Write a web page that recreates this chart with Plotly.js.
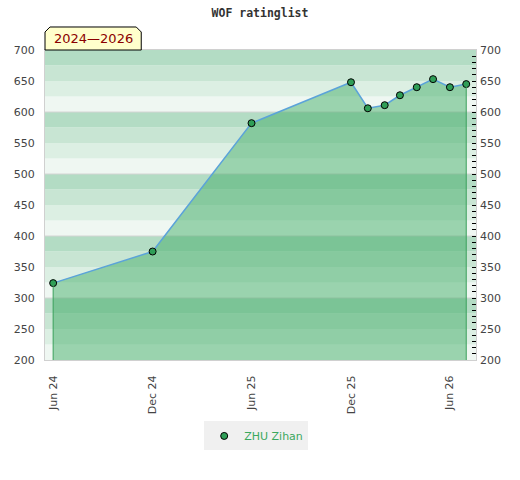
<!DOCTYPE html>
<html>
<head>
<meta charset="utf-8">
<script src="https://cdn.plot.ly/plotly-3.0.1.min.js"></script>
<style>
  html, body { margin: 0; padding: 0; background: #fff; }
  #chart { width: 520px; height: 480px; }
</style>
</head>
<body>
<div id="chart"></div>
<script>
// ---- data ----
const dates = ['2024-06-01', '2024-12-01', '2025-06-01', '2025-12-01', '2026-01-01',
               '2026-02-01', '2026-03-01', '2026-04-01', '2026-05-01', '2026-06-01', '2026-07-01'];
const ratings = [324, 375, 582, 648, 606, 611, 627, 640, 653, 640, 645];
const playerName = 'ZHU Zihan';
const chartTitle = 'WOF ratinglist';
const periodLabel = '2024\u20142026';
const tickDates = ['2024-06-01', '2024-12-01', '2025-06-01', '2025-12-01', '2026-06-01'];
const tickLabels = ['Jun 24', 'Dec 24', 'Jun 25', 'Dec 25', 'Jun 26'];

// ---- styling ----
const yMin = 200, yMax = 700;
const bandColors = ['#eff7f2', '#dcefe3', '#c8e5d3', '#b3dcc4'];
const shapes = [];
for (let v = yMin; v < yMax; v += 25) {
  const q = Math.round((v % 100) / 25);
  shapes.push({type: 'rect', xref: 'paper', yref: 'y', x0: 0, x1: 1, y0: v, y1: v + 25,
               fillcolor: bandColors[q], line: {width: 0}, layer: 'below'});
}
for (let v = yMin + 100; v < yMax; v += 100) {
  shapes.push({type: 'line', xref: 'paper', yref: 'y', x0: 0, x1: 1, y0: v, y1: v,
               line: {color: '#d4d4d4', width: 1}, layer: 'below'});
}
// period label box (chamfered top corners)
shapes.push({type: 'path', xref: 'paper', yref: 'paper',
  path: 'M 0,1 L 0,1.0581 L 0.0116,1.0742 L 0.2117,1.0742 L 0.2233,1.0581 L 0.2233,1 Z',
  fillcolor: '#ffffcc', line: {color: '#000', width: 1}, layer: 'above'});

const last = dates.length - 1;
const traces = [
  { // filled area
    x: dates, y: ratings, type: 'scatter', mode: 'lines', fill: 'tozeroy',
    fillcolor: 'rgba(60,169,98,0.47)', line: {width: 0, color: 'rgba(0,0,0,0)'},
    showlegend: false, hoverinfo: 'skip'
  },
  { // vertical edges of the area
    x: [dates[0], dates[0], null, dates[last], dates[last]],
    y: [yMin, ratings[0], null, yMin, ratings[last]],
    type: 'scatter', mode: 'lines', line: {color: '#3aa05a', width: 1},
    showlegend: false, hoverinfo: 'skip', yaxis: 'y2'
  },
  { // rating line
    x: dates, y: ratings, type: 'scatter', mode: 'lines',
    line: {color: '#5ba3d9', width: 1.5}, showlegend: false, hoverinfo: 'skip'
  },
  { // markers
    x: dates, y: ratings, type: 'scatter', mode: 'markers', name: playerName,
    marker: {color: '#2f9e57', size: 7, line: {color: '#000', width: 1}}
  }
];

const layout = {
  width: 520, height: 480,
  margin: {l: 45, r: 44, t: 50, b: 120},
  paper_bgcolor: '#fff', plot_bgcolor: '#fff',
  title: {text: chartTitle, x: 0.5, xanchor: 'center', y: 0.973, yanchor: 'middle',
          font: {family: 'DejaVu Sans Mono', size: 11.5, color: '#333', weight: 'bold'}},
  xaxis: {
    type: 'date', range: ['2024-05-17', '2026-07-19'],
    tickvals: tickDates, ticktext: tickLabels, tickangle: -90,
    ticks: 'outside', ticklen: 10, tickcolor: 'rgba(0,0,0,0)',
    tickfont: {family: 'DejaVu Sans', size: 11, color: '#444'},
    showgrid: false, zeroline: false,
    showline: true, linecolor: '#d0d0d0', linewidth: 1, mirror: true
  },
  yaxis: {
    range: [yMin, yMax], dtick: 50, tick0: 0,
    ticks: 'outside', ticklen: 7, tickcolor: 'rgba(0,0,0,0)',
    tickfont: {family: 'DejaVu Sans', size: 11, color: '#444'},
    showgrid: false, zeroline: false,
    showline: true, linecolor: '#d0d0d0', linewidth: 1, mirror: true
  },
  yaxis2: {
    overlaying: 'y', side: 'right', range: [yMin, yMax], dtick: 50, tick0: 0,
    ticks: 'inside', ticklen: 4, tickcolor: '#000', tickwidth: 1,
    minor: {dtick: 10, ticks: 'inside', ticklen: 4, tickcolor: '#000', tickwidth: 1, showgrid: false},
    tickfont: {family: 'DejaVu Sans', size: 11, color: '#444'},
    ticklabelstandoff: 3,
    showgrid: false, zeroline: false, showline: false
  },
  showlegend: true,
  legend: {orientation: 'h', x: 0.49, xanchor: 'center', y: -0.245, yanchor: 'middle',
           bgcolor: '#f0f0f0', itemwidth: 30,
           font: {family: 'DejaVu Sans', size: 11, color: '#3aa85e'}},
  shapes: shapes,
  annotations: [{
    text: periodLabel, xref: 'paper', yref: 'paper', x: 0.1116, y: 1.037,
    xanchor: 'center', yanchor: 'middle', showarrow: false,
    font: {family: 'DejaVu Sans', size: 13, color: '#8b0000'}
  }]
};

Plotly.newPlot('chart', traces, layout, {displayModeBar: false, staticPlot: true});
</script>
</body>
</html>
